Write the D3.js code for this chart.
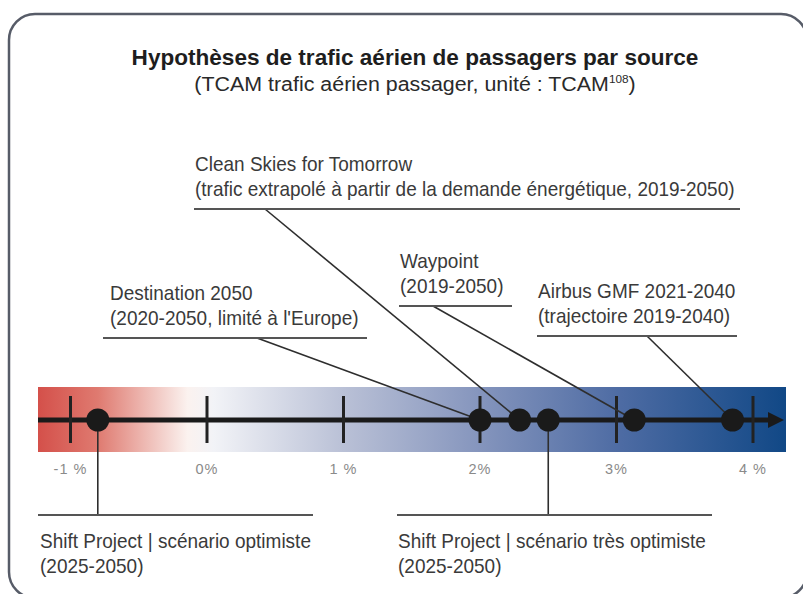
<!DOCTYPE html>
<html>
<head>
<meta charset="utf-8">
<script src="https://cdn.jsdelivr.net/npm/d3@7"></script>
<style>
  html, body { margin: 0; padding: 0; background: #fff; }
  svg { display: block; }
</style>
</head>
<body>
<div id="chart"></div>
<script>
// Sources and their assumed annual growth (TCAM, %)
const sources = [
  "Shift Project | scénario optimiste",
  "Destination 2050",
  "Clean Skies for Tomorrow",
  "Shift Project | scénario très optimiste",
  "Waypoint",
  "Airbus GMF 2021-2040"
]
const subtitles = [
  "(2025-2050)",
  "(2020-2050, limité à l'Europe)",
  "(trafic extrapolé à partir de la demande énergétique, 2019-2050)",
  "(2025-2050)",
  "(2019-2050)",
  "(trajectoire 2019-2040)"
]
const growth = [-0.8, 2.0, 2.29, 2.5, 3.13, 3.85]
const tickValues = [-1, 0, 1, 2, 3, 4]
const tickLabels = ["-1 %", "0%", "1 %", "2%", "3%", "4 %"]

// Label placement (layout only): underline y, underline span, anchor x of leader
const labelLayout = [
  { below: true,  lineY: 515, x0: 38,  x1: 313, textX: 40 },
  { below: false, lineY: 338, x0: 103, x1: 367, textX: 110, anchorX: 257 },
  { below: false, lineY: 209, x0: 194, x1: 740, textX: 195, anchorX: 265 },
  { below: true,  lineY: 515, x0: 397, x1: 712, textX: 398 },
  { below: false, lineY: 306, x0: 399, x1: 512, textX: 400, anchorX: 433 },
  { below: false, lineY: 336, x0: 537, x1: 737, textX: 538, anchorX: 647 }
]

const width = 803
const height = 594
const font = "'Liberation Sans', Arial, sans-serif"
const textColor = "#3a3a3a"

const bar = { x0: 38, x1: 786, top: 387, bottom: 452, axisY: 420 }

const svg = d3.select("#chart")
  .append("svg")
  .attr("width", width)
  .attr("height", height)

// Rounded frame
svg.append("rect")
  .attr("x", 9)
  .attr("y", 14)
  .attr("width", 798)
  .attr("height", 584)
  .attr("rx", 26)
  .attr("fill", "none")
  .attr("stroke", "#575c68")
  .attr("stroke-width", 2.5)

// Titles (stretched horizontally to the source's wider face)
svg.append("text")
  .attr("transform", "translate(415,65) scale(1.05,1)")
  .attr("text-anchor", "middle")
  .attr("font-family", font)
  .attr("font-weight", "bold")
  .attr("font-size", "21.5px")
  .attr("fill", "#1e1e1e")
  .text("Hypothèses de trafic aérien de passagers par source")

const sub = svg.append("text")
  .attr("transform", "translate(415,91) scale(1.07,1)")
  .attr("text-anchor", "middle")
  .attr("font-family", font)
  .attr("font-size", "20px")
  .attr("fill", "#2a2a2a")
sub.append("tspan").text("(TCAM trafic aérien passager, unité : TCAM")
sub.append("tspan").attr("font-size", "11px").attr("dy", -8).text("108")
sub.append("tspan").attr("dy", 8).text(")")

// Gradient band
const defs = svg.append("defs")
const grad = defs.append("linearGradient")
  .attr("id", "band")
  .attr("x1", "0%").attr("x2", "100%")
  .attr("y1", "0%").attr("y2", "0%")
const stops = [
  [0, "#d4504a"], [0.08, "#df7a70"], [0.2, "#fbf2ef"], [0.235, "#f2f3f7"],
  [0.41, "#b9c0d6"], [0.59, "#8595bd"], [0.78, "#4d6ba3"], [1, "#114886"]
]
stops.forEach(([o, c]) => grad.append("stop").attr("offset", o).attr("stop-color", c))

svg.append("rect")
  .attr("x", bar.x0)
  .attr("y", bar.top)
  .attr("width", bar.x1 - bar.x0)
  .attr("height", bar.bottom - bar.top)
  .attr("fill", "url(#band)")

// Scale
const x = d3.scaleLinear()
  .domain([0, 1])
  .range([207, 343.5])

// Axis line + arrow
svg.append("line")
  .attr("x1", bar.x0)
  .attr("x2", 772)
  .attr("y1", bar.axisY)
  .attr("y2", bar.axisY)
  .attr("stroke", "#1a1a1a")
  .attr("stroke-width", 5)

svg.append("path")
  .attr("d", `M768,${bar.axisY - 8} L784,${bar.axisY} L768,${bar.axisY + 8} Z`)
  .attr("fill", "#1a1a1a")

// Ticks
svg.append("g")
  .selectAll("line")
  .data(tickValues)
  .join("line")
  .attr("x1", d => x(d))
  .attr("x2", d => x(d))
  .attr("y1", 396)
  .attr("y2", 443)
  .attr("stroke", "#222")
  .attr("stroke-width", 3)

svg.append("g")
  .selectAll("text")
  .data(tickValues)
  .join("text")
  .attr("x", d => x(d))
  .attr("y", 474)
  .attr("text-anchor", "middle")
  .attr("font-family", font)
  .attr("font-size", "14.5px")
  .attr("letter-spacing", "1px")
  .attr("fill", "#8a8a8a")
  .text((d, i) => tickLabels[i])

// Leader lines, underlines and labels
const items = sources.map((name, i) => ({ name, sub: subtitles[i], value: growth[i], lay: labelLayout[i] }))

const labels = svg.append("g")

items.forEach(d => {
  const cx = x(d.value)
  const l = d.lay

  // leader
  labels.append("line")
    .attr("x1", l.below ? cx : l.anchorX)
    .attr("y1", l.lineY)
    .attr("x2", cx)
    .attr("y2", bar.axisY)
    .attr("stroke", "#2e2e2e")
    .attr("stroke-width", 1.6)

  // underline
  labels.append("line")
    .attr("x1", l.x0)
    .attr("x2", l.x1)
    .attr("y1", l.lineY)
    .attr("y2", l.lineY)
    .attr("stroke", "#555")
    .attr("stroke-width", 2.2)

  const y1 = l.below ? l.lineY + 33 : l.lineY - 38
  const t = labels.append("text")
    .attr("transform", `translate(${l.textX},${y1}) scale(0.95,1)`)
    .attr("font-family", font)
    .attr("font-size", "20px")
    .attr("fill", textColor)
  t.append("tspan").attr("x", 0).attr("y", 0).text(d.name)
  t.append("tspan").attr("x", 0).attr("y", 25.5).text(d.sub)
})

// Dots
svg.append("g")
  .selectAll("circle")
  .data(growth)
  .join("circle")
  .attr("cx", d => x(d))
  .attr("cy", bar.axisY)
  .attr("r", 11.5)
  .attr("fill", "#1a1a1a")
</script>
</body>
</html>
